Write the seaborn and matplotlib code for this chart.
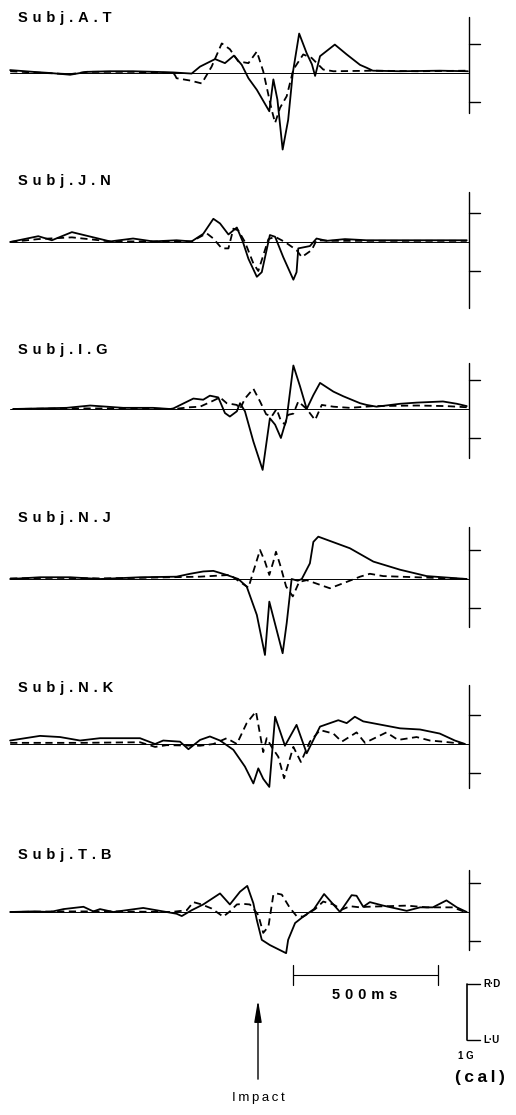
import matplotlib
matplotlib.use("Agg")
import pandas as pd
import matplotlib.pyplot as plt
import seaborn as sns

subjects = ["Subj.A.T", "Subj.J.N", "Subj.I.G", "Subj.N.J", "Subj.N.K", "Subj.T.B"]

# time in ms (0 = impact), acceleration in G
at_t_solid = [-855, -776, -717, -648, -590, -510, -431, -355, -293, -229, -200, -148, -114, -83, -56, -33, -4,
              39, 53, 67, 85, 104, 120, 142, 168, 186, 197, 214, 265, 306, 352, 375, 396, 490, 627, 724]
at_g_solid = [0.05, 0.02, 0.0, -0.03, 0.02, 0.03, 0.03, 0.02, 0.01, -0.01, 0.11, 0.24, 0.17, 0.30, 0.14, -0.09, -0.29,
              -0.66, -0.11, -0.46, -1.32, -0.81, 0.0, 0.68, 0.34, 0.15, -0.05, 0.29, 0.49, 0.32, 0.14, 0.09, 0.04, 0.03, 0.04, 0.03]
at_t_dash = [-855, -776, -648, -590, -431, -293, -286, -281, -234, -194, -160, -125, -97, -68, -33, -4, 18,
             47, 59, 76, 99, 122, 156, 185, 225, 260, 400, 550, 724]
at_g_dash = [0.03, 0.01, -0.02, 0.02, 0.02, 0.0, -0.04, -0.09, -0.13, -0.18, 0.11, 0.51, 0.41, 0.20, 0.17, 0.37, 0.03,
             -0.63, -0.86, -0.60, -0.40, 0.06, 0.32, 0.26, 0.06, 0.03, 0.04, 0.03, 0.04]

jn_t_solid = [-855, -758, -711, -642, -510, -431, -362, -281, -229, -189, -154, -131, -102, -73, -52, -33, -4, 13,
              41, 59, 87, 122, 133, 139, 179, 202, 237, 300, 375, 720]
jn_g_solid = [0.0, 0.10, 0.03, 0.17, 0.01, 0.06, 0.01, 0.03, 0.01, 0.14, 0.40, 0.32, 0.13, 0.25, 0.0, -0.29, -0.60, -0.52,
              0.12, 0.09, -0.26, -0.65, -0.52, -0.11, -0.07, 0.06, 0.02, 0.05, 0.03, 0.03]
jn_t_dash = [-855, -758, -642, -510, -362, -229, -177, -154, -125, -102, -85, -68, -45, -16, 1, 36, 59, 93, 133,
             151, 185, 202, 260, 720]
jn_g_dash = [0.0, 0.05, 0.08, 0.01, 0.01, 0.01, 0.15, 0.06, -0.11, -0.11, 0.23, 0.20, 0.0, -0.37, -0.50, 0.05, 0.09, 0.0,
             -0.14, -0.26, -0.14, 0.03, 0.02, 0.02]

ig_t_solid = [-845, -660, -579, -465, -362, -303, -292, -223, -189, -166, -137, -114, -97, -73, -62, -45, -16, 16,
              41, 59, 79, 99, 122, 145, 168, 191, 214, 260, 294, 352, 375, 409, 490, 547, 638, 686, 720]
ig_g_solid = [0.0, 0.02, 0.06, 0.02, 0.02, 0.0, 0.01, 0.18, 0.16, 0.23, 0.20, -0.07, -0.13, -0.04, 0.10, -0.04, -0.56, -1.05,
              -0.16, -0.27, -0.50, -0.16, 0.75, 0.39, 0.0, 0.24, 0.45, 0.30, 0.22, 0.10, 0.07, 0.04, 0.09, 0.11, 0.13, 0.09, 0.05]
ig_t_dash = [-845, -660, -465, -292, -234, -200, -160, -131, -108, -73, -62, -45, -16, 7, 28, 47, 64, 78, 93, 104,
             122, 139, 168, 197, 220, 260, 317, 400, 550, 650, 720]
ig_g_dash = [0.0, 0.01, 0.01, 0.0, 0.03, 0.04, 0.13, 0.20, 0.10, 0.07, 0.0, 0.18, 0.35, 0.13, -0.09, -0.13, 0.0, -0.19,
             -0.27, -0.10, -0.08, 0.13, 0.0, -0.19, 0.07, 0.04, 0.02, 0.05, 0.06, 0.05, 0.03]

nj_t_solid = [-855, -752, -648, -545, -407, -281, -234, -189, -154, -108, -68, -39, -4, 24, 39, 85, 99, 116, 137,
              151, 179, 191, 208, 317, 398, 490, 582, 720]
nj_g_solid = [0.0, 0.03, 0.03, 0.0, 0.03, 0.04, 0.09, 0.13, 0.14, 0.07, 0.0, -0.13, -0.62, -1.31, -0.39, -1.28, -0.76, 0.0,
              -0.03, 0.0, 0.27, 0.64, 0.73, 0.53, 0.30, 0.16, 0.05, 0.0]
nj_t_dash = [-855, -700, -545, -407, -200, -97, -33, -16, 7, 24, 39, 53, 62, 76, 97, 120, 142, 168, 248, 306, 352,
             386, 432, 547, 720]
nj_g_dash = [0.01, 0.02, 0.01, 0.02, 0.04, 0.07, -0.15, 0.13, 0.50, 0.30, 0.07, 0.30, 0.47, 0.25, -0.13, -0.30, -0.05,
             -0.02, -0.16, -0.05, 0.04, 0.09, 0.05, 0.03, 0.0]

nk_t_solid = [-855, -752, -683, -614, -545, -407, -355, -327, -269, -240, -200, -166, -131, -85, -45, -16, 1, 18,
              39, 59, 93, 133, 168, 214, 277, 306, 334, 363, 490, 559, 627, 679, 714]
nk_g_solid = [0.06, 0.14, 0.12, 0.06, 0.10, 0.10, 0.0, 0.06, 0.04, -0.09, 0.07, 0.13, 0.06, -0.10, -0.39, -0.68, -0.42,
              -0.60, -0.74, 0.47, -0.03, 0.33, -0.16, 0.30, 0.41, 0.36, 0.47, 0.39, 0.27, 0.25, 0.18, 0.06, 0.0]
nk_t_dash = [-855, -614, -407, -355, -315, -200, -154, -108, -73, -39, -7, 18, 30, 47, 70, 90, 110, 122, 148, 179,
             214, 260, 289, 340, 369, 443, 483, 547, 593, 638, 714]
nk_g_dash = [0.02, 0.02, 0.03, -0.05, -0.02, -0.03, 0.0, 0.10, 0.0, 0.36, 0.56, -0.14, 0.10, -0.05, -0.22, -0.59,
             -0.25, -0.05, -0.31, 0.04, 0.24, 0.18, 0.04, 0.20, 0.02, 0.20, 0.07, 0.12, 0.06, 0.04, 0.0]

tb_t_solid = [-855, -776, -717, -671, -602, -568, -545, -499, -396, -281, -263, -229, -189, -131, -97, -62, -37, -16,
              -4, 13, 41, 97, 104, 128, 156, 193, 228, 283, 323, 340, 363, 386, 432, 513, 559, 603, 650, 686, 720]
tb_g_solid = [0.0, 0.01, 0.0, 0.05, 0.09, 0.01, 0.05, 0.0, 0.07, -0.03, -0.07, 0.03, 0.13, 0.32, 0.13, 0.35, 0.45, 0.15,
              -0.14, -0.48, -0.57, -0.71, -0.48, -0.19, -0.08, 0.05, 0.31, 0.0, 0.29, 0.28, 0.09, 0.17, 0.11, 0.02,
              0.08, 0.08, 0.20, 0.08, 0.0]
tb_t_dash = [-855, -700, -500, -300, -246, -223, -194, -160, -120, -97, -73, -51, -28, 1, 18, 36, 53, 64, 82, 110,
             133, 156, 197, 225, 260, 289, 317, 352, 375, 513, 582, 638, 672, 714]
tb_g_dash = [0.0, 0.01, 0.01, 0.0, 0.03, 0.17, 0.13, 0.06, -0.08, 0.01, 0.13, 0.14, 0.13, -0.05, -0.36, -0.25, 0.30,
             0.32, 0.30, 0.07, -0.07, -0.08, 0.05, 0.18, 0.13, 0.04, 0.10, 0.08, 0.09, 0.11, 0.08, 0.08, 0.08, 0.0]

panels = [
    (at_t_solid, at_g_solid, at_t_dash, at_g_dash),
    (jn_t_solid, jn_g_solid, jn_t_dash, jn_g_dash),
    (ig_t_solid, ig_g_solid, ig_t_dash, ig_g_dash),
    (nj_t_solid, nj_g_solid, nj_t_dash, nj_g_dash),
    (nk_t_solid, nk_g_solid, nk_t_dash, nk_g_dash),
    (tb_t_solid, tb_g_solid, tb_t_dash, tb_g_dash),
]

# layout (pixels of the 516x1115 page)
W, H = 516, 1115
PX_PER_G = 58
baseline_px = [73, 242, 409, 579, 744, 912]
title_px = [18, 181, 350, 518, 688, 855]
scale_top = [0.97, 0.86, 0.79, 0.90, 1.02, 0.72]
scale_bot = [-0.69, -1.14, -0.84, -0.83, -0.76, -0.66]
YLO, YHI = -1.5, 1.2
BAR_T = 727

sns.set_style("white")
plt.rcParams["text.color"] = "black"
FONT = ["Liberation Sans", "DejaVu Sans"]


def spaced(s, gap="\u2004"):
    return gap.join(s)


fig = plt.figure(figsize=(W / 100, H / 100), dpi=100)

axes = []
for i, (ts, gs, td, gd) in enumerate(panels):
    bottom = baseline_px[i] - YLO * PX_PER_G
    height = (YHI - YLO) * PX_PER_G
    ax = fig.add_axes([0, 1 - bottom / H, 1, height / H])
    df = pd.DataFrame({
        "t": ts + td,
        "g": gs + gd,
        "trace": ["solid"] * len(ts) + ["dashed"] * len(td),
    })
    sns.lineplot(data=df, x="t", y="g", style="trace",
                 dashes={"solid": "", "dashed": (4, 2.5)},
                 color="black", linewidth=1.3, sort=False, estimator=None,
                 legend=False, ax=ax)
    # zero line
    ax.plot([-855, BAR_T], [0, 0], color="black", lw=0.7)
    # right scale bar with ±0.5 G ticks
    ax.plot([BAR_T, BAR_T], [scale_bot[i], scale_top[i]], color="black", lw=1.0)
    for v in (0.5, -0.5):
        ax.plot([BAR_T, 765], [v, v], color="black", lw=1.0)
    ax.set_xlim(-890, 890)
    ax.set_ylim(YLO, YHI)
    ax.axis("off")
    fig.text(18 / W, 1 - title_px[i] / H, spaced(subjects[i]), fontsize=10.5,
             fontweight="bold", family=FONT, va="center", ha="left", color="black")
    axes.append(ax)

ax = axes[-1]
# 500 ms time bar
ax.plot([121, 621], [-1.09, -1.09], color="black", lw=0.8, clip_on=False)
for x in (121, 621):
    ax.plot([x, x], [-0.91, -1.26], color="black", lw=0.9, clip_on=False)
ax.text(369, -1.43, spaced("500ms"), fontsize=10.5, fontweight="bold",
        family=FONT, ha="center", va="center", color="black")

# impact arrow
ax.annotate("", xy=(0, -1.47), xytext=(0, -2.93), annotation_clip=False,
            arrowprops=dict(arrowstyle="-|>,head_length=1.3,head_width=0.22",
                            color="black", lw=1.0, mutation_scale=10))
ax.text(0, -3.2, spaced("Impact", "\u2009"), fontsize=9.5, family=FONT,
        ha="center", va="center", color="black")

# 1 G calibration
ax.plot([720, 720], [-1.24, -2.21], color="black", lw=1.2, clip_on=False)
for v in (-1.24, -2.21):
    ax.plot([720, 765], [v, v], color="black", lw=1.0, clip_on=False)
ax.text(776, -1.24, "R·D", fontsize=7, fontweight="bold", family=FONT, ha="left", va="center", color="black")
ax.text(776, -2.21, "L·U", fontsize=7, fontweight="bold", family=FONT, ha="left", va="center", color="black")
ax.text(717, -2.48, "1 G", fontsize=7, fontweight="bold", family=FONT, ha="center", va="center", color="black")
ax.text(765, -2.86, spaced("(cal)", "\u2009"), fontsize=12.5, fontweight="bold", family=FONT,
        ha="center", va="center", color="black")

fig.savefig("out.png", dpi=100)
